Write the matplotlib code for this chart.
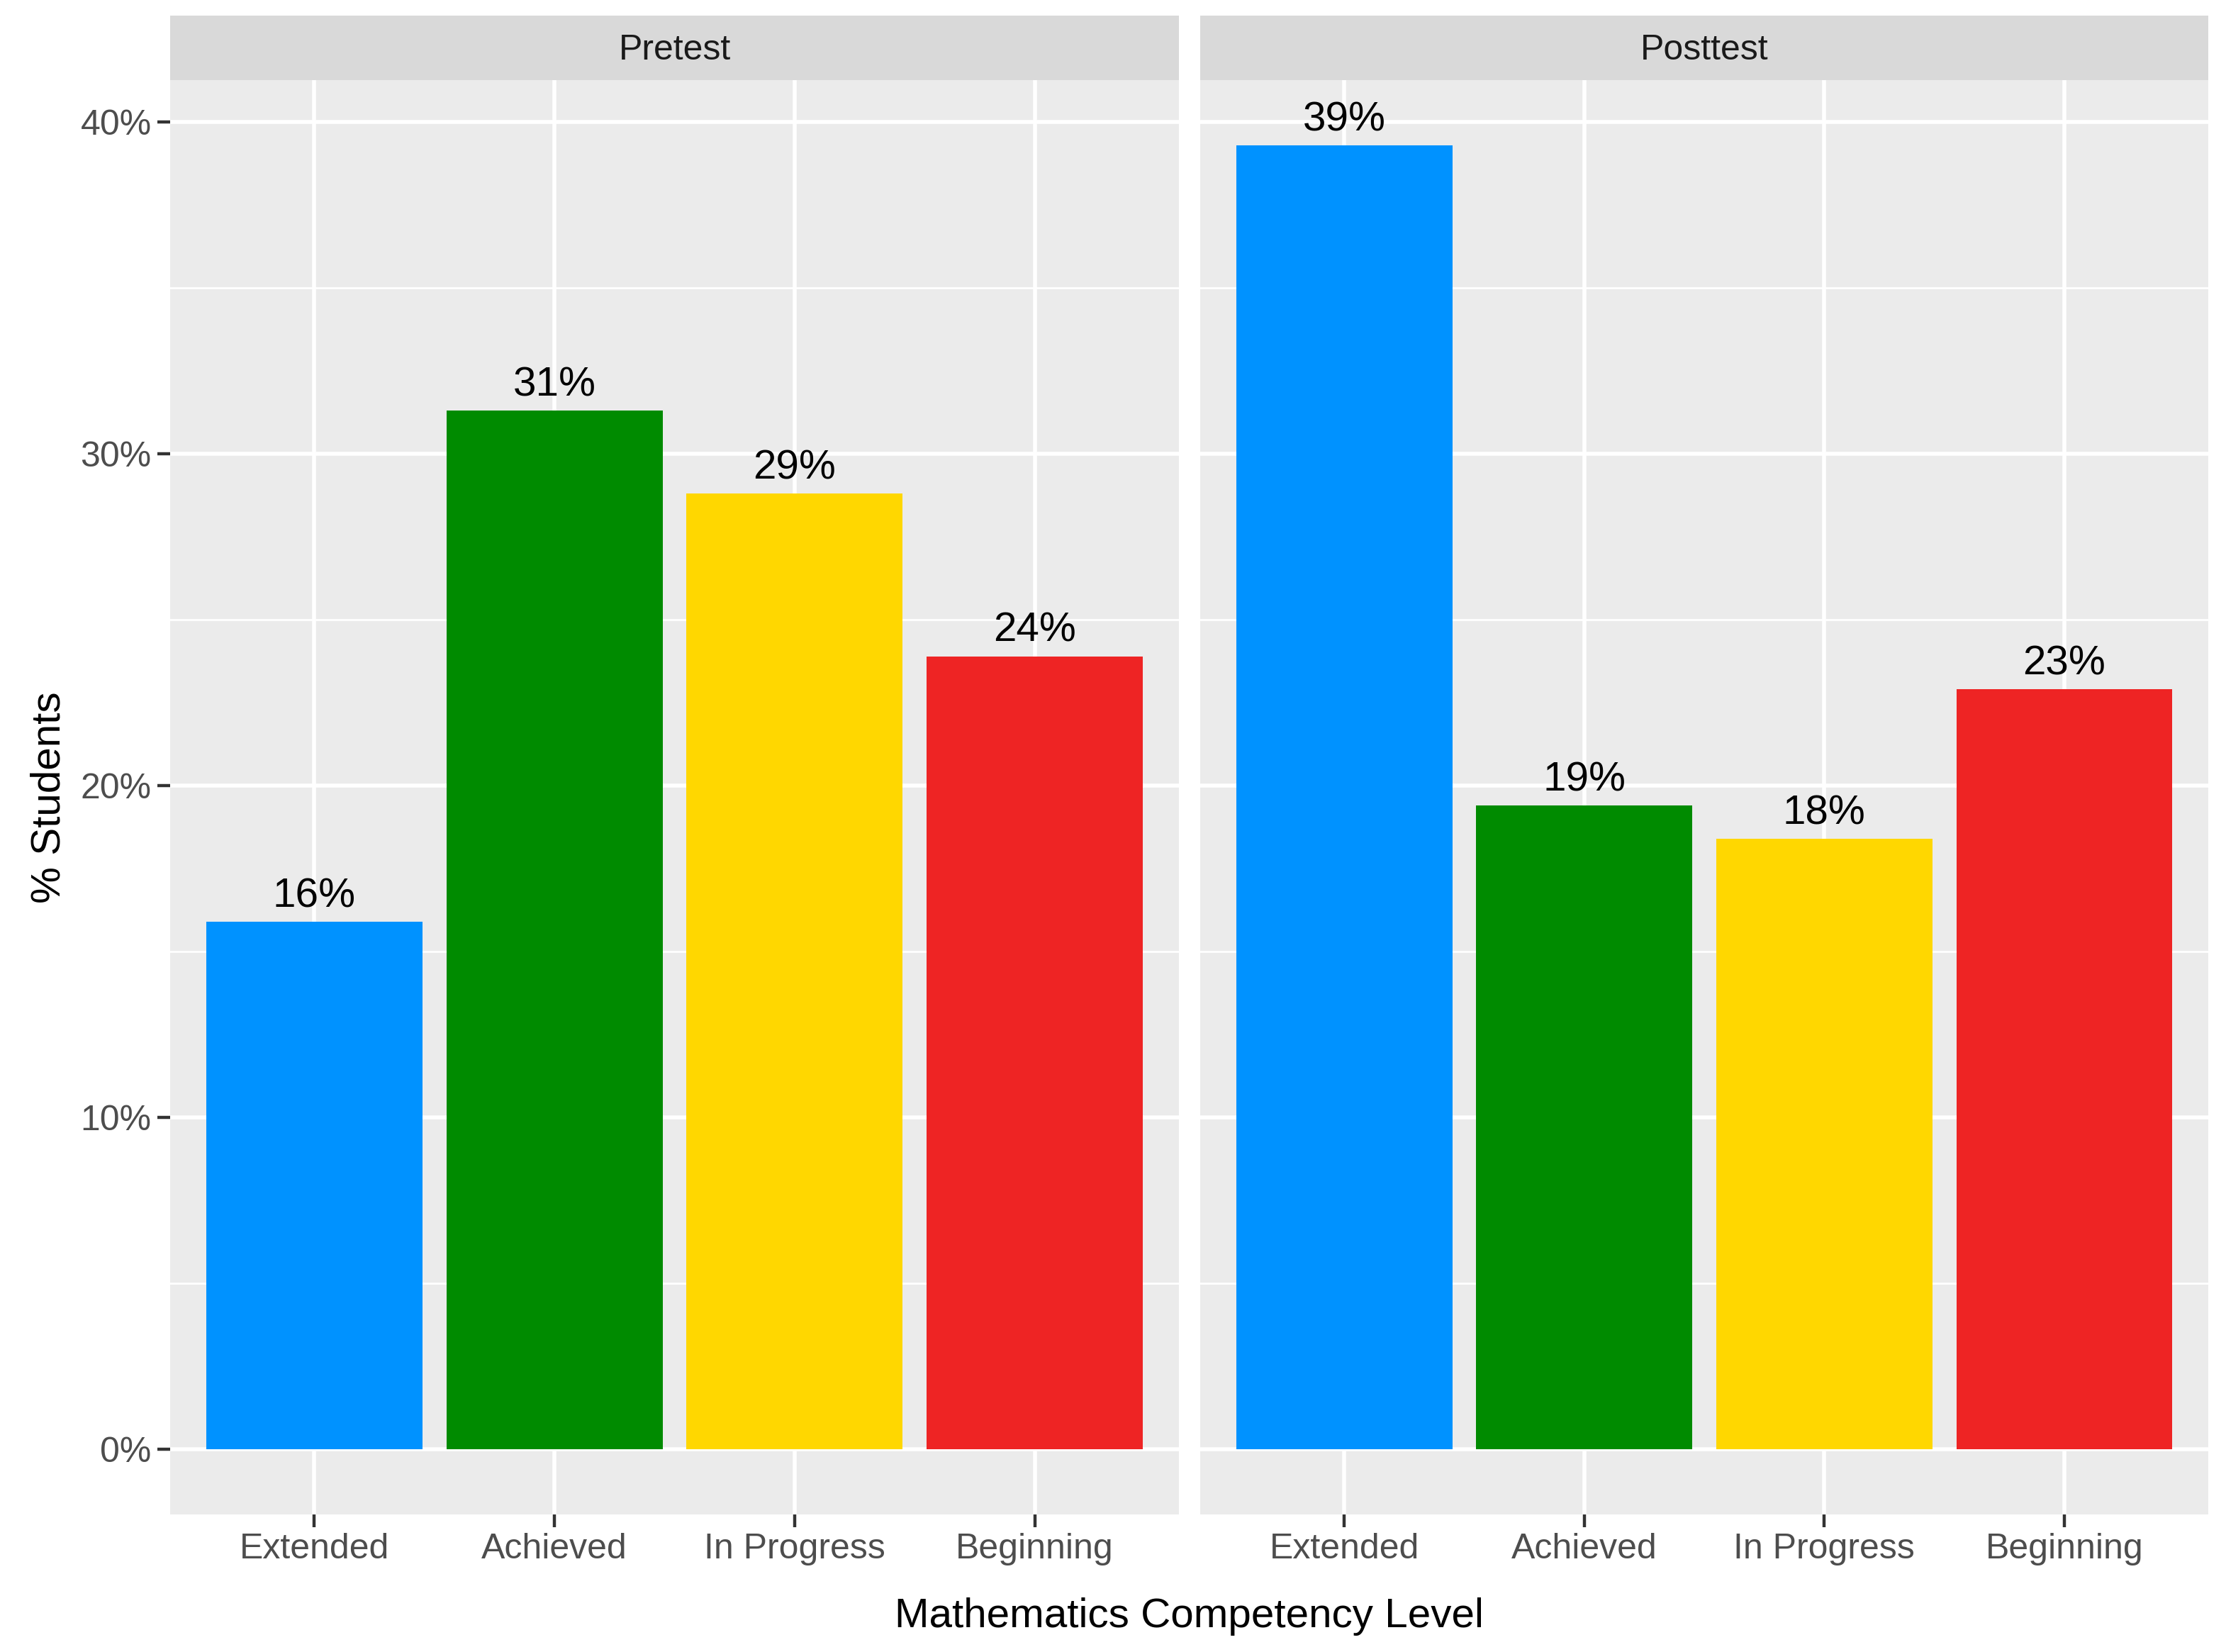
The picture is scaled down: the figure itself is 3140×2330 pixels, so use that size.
import matplotlib
matplotlib.use("Agg")
import matplotlib.pyplot as plt
from matplotlib.ticker import MultipleLocator, FuncFormatter

# ---- data ----
levels = ["Extended", "Achieved", "In Progress", "Beginning"]
tests = ["Pretest", "Posttest"]
pretest_pct = [15.9, 31.3, 28.8, 23.9]
posttest_pct = [39.3, 19.4, 18.4, 22.9]
bar_colors = ["#0092FF", "#008B00", "#FFD700", "#EE2424"]
y_ticks = [0, 10, 20, 30, 40]

series = [pretest_pct, posttest_pct]

plt.rcParams["font.family"] = ["Liberation Sans", "DejaVu Sans"]

W, H = 3140, 2330
DPI = 200
fig = plt.figure(figsize=(W / DPI, H / DPI), dpi=DPI)

panel_x = [(240, 1663), (1693, 3115)]
panel_top, panel_bot = 113, 2136
strip_top = 22

ymax_data = max(max(pretest_pct), max(posttest_pct))
ylo, yhi = -0.05 * ymax_data, ymax_data * 1.05

for i, (x0, x1) in enumerate(panel_x):
    ax = fig.add_axes([x0 / W, 1 - panel_bot / H, (x1 - x0) / W, (panel_bot - panel_top) / H])
    ax.set_facecolor("#EBEBEB")
    for s in ax.spines.values():
        s.set_visible(False)
    xs = list(range(1, len(levels) + 1))
    vals = series[i]
    ax.bar(xs, vals, width=0.9, color=bar_colors, zorder=3)
    for x, v in zip(xs, vals):
        ax.annotate(f"{round(v)}%", (x, v), xytext=(0, 7.5), textcoords="offset points",
                    ha="center", va="baseline", fontsize=21, color="black", zorder=4)
    ax.set_xlim(0.4, 4.6)
    ax.set_ylim(ylo, yhi)
    ax.set_xticks(xs)
    ax.set_xticklabels(levels)
    ax.set_yticks(y_ticks)
    ax.yaxis.set_minor_locator(MultipleLocator(5))
    ax.yaxis.set_major_formatter(FuncFormatter(lambda v, p: f"{int(v)}%"))
    ax.grid(True, which="major", color="white", linewidth=2.0, zorder=1)
    ax.grid(True, which="minor", axis="y", color="white", linewidth=1.0, zorder=1)
    ax.set_axisbelow(True)
    ax.tick_params(axis="both", which="major", length=6.5, width=1.6, color="#333333",
                   labelsize=18, labelcolor="#4D4D4D")
    ax.tick_params(axis="x", pad=3)
    ax.tick_params(axis="y", pad=3)
    ax.tick_params(which="minor", length=0)
    if i > 0:
        ax.tick_params(axis="y", left=False, labelleft=False)
    # strip
    sax = fig.add_axes([x0 / W, 1 - panel_top / H, (x1 - x0) / W, (panel_top - strip_top) / H])
    sax.set_facecolor("#D9D9D9")
    for s in sax.spines.values():
        s.set_visible(False)
    sax.set_xticks([])
    sax.set_yticks([])
    sax.text(0.5, 0.52, tests[i], ha="center", va="center_baseline", fontsize=18, color="#1A1A1A",
             transform=sax.transAxes)

fig.text(70 / W, 1 - ((panel_top + panel_bot) / 2) / H, "% Students", rotation=90,
         ha="center", va="center", fontsize=21, color="black")
fig.text(((panel_x[0][0] + panel_x[1][1]) / 2) / W, 1 - 2280 / H, "Mathematics Competency Level",
         ha="center", va="center", fontsize=21, color="black")

fig.savefig("out.png", dpi=DPI, facecolor="white")
